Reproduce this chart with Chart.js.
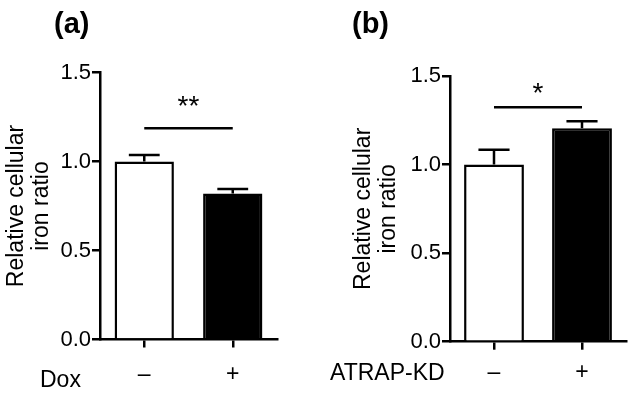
<!DOCTYPE html>
<html>
<head>
<meta charset="utf-8">
<script src="https://cdn.jsdelivr.net/npm/chart.js@4.4.1/dist/chart.umd.min.js"></script>
<style>
body { margin:0; background:#fff; }
#wrap { position:relative; width:629px; height:394px; overflow:hidden; font-family:"Liberation Sans", Arial, sans-serif; }
canvas { position:absolute; top:0; }
.lbl { position:absolute; font-weight:bold; font-size:29px; line-height:29px; color:#000; }
</style>
</head>
<body>
<div id="wrap">
  <canvas id="chartA" width="315" height="394" style="left:0px"></canvas>
  <canvas id="chartB" width="314" height="394" style="left:315px"></canvas>
  <div class="lbl" style="left:54px;top:9px">(a)</div>
  <div class="lbl" style="left:352px;top:9px">(b)</div>
</div>
<script>
var groups = ['\u2013', '+'];        // x categories
var doxMeans = [1.00, 0.82];
var doxErr = [0.037, 0.025];
var atrapMeans = [1.00, 1.205];
var atrapErr = [0.083, 0.04];
var yTicks = [0, 0.5, 1.0, 1.5];
var barColors = ['#ffffff', '#000000'];

// significance line + stars (data units)
var doxSig = 1.187, doxStarAt = 1.262, doxStars = '**';
var atrapSig = 1.324, atrapStarAt = 1.354, atrapStars = '*';

var FONT = '"Liberation Sans", Arial, sans-serif';

// draws the error bars, the significance bar and the row label
var extras = {
  id: 'extras',
  afterDatasetsDraw: function(chart, args, o) {
    var ctx = chart.ctx;
    var xs = chart.scales.x, ys = chart.scales.y;
    var meta = chart.getDatasetMeta(0);
    ctx.save();
    ctx.strokeStyle = '#000';
    ctx.lineWidth = 2.5;
    ctx.lineCap = 'butt';
    for (var i = 0; i < o.means.length; i++) {
      var bar = meta.data[i];
      var cx = bar.x;
      var half = bar.width * 0.26;
      var y0 = ys.getPixelForValue(o.means[i]);
      var y1 = ys.getPixelForValue(o.means[i] + o.err[i]);
      ctx.beginPath();
      ctx.moveTo(cx, y0);
      ctx.lineTo(cx, y1);
      ctx.moveTo(cx - half, y1);
      ctx.lineTo(cx + half, y1);
      ctx.stroke();
    }
    // significance line between the two category centres
    var sy = ys.getPixelForValue(o.sig);
    ctx.beginPath();
    ctx.moveTo(xs.getPixelForValue(0), sy);
    ctx.lineTo(xs.getPixelForValue(1), sy);
    ctx.stroke();
    ctx.fillStyle = '#000';
    ctx.font = '28px ' + FONT;
    ctx.textAlign = 'center';
    ctx.textBaseline = 'alphabetic';
    ctx.fillText(o.stars, (xs.getPixelForValue(0) + xs.getPixelForValue(1)) / 2, ys.getPixelForValue(o.starAt));
    // row label left of the x tick labels
    ctx.font = '23px ' + FONT;
    ctx.textAlign = 'left';
    ctx.fillText(o.rowLabel, o.rowX, chart.chartArea.bottom + o.rowDy);
    ctx.restore();
  }
};

function makePanel(id, means, err, sig, starAt, stars, rowLabel, lay)
{
  var ctx = document.getElementById(id);
  return new Chart(ctx, {
    type: 'bar',
    data: {
      labels: groups,
      datasets: [{
        data: means,
        backgroundColor: barColors,
        borderColor: '#000',
        borderWidth: 2.5,
        borderSkipped: 'start',
        barPercentage: lay.barPct,
        categoryPercentage: 1
      }]
    },
    options: {
      responsive: false,
      animation: false,
      devicePixelRatio: 1,
      layout: { padding: { top: lay.top, right: lay.right, bottom: 0, left: 0 } },
      plugins: {
        legend: { display: false },
        tooltip: { enabled: false },
        extras: { means: means, err: err, sig: sig, starAt: starAt, stars: stars,
                  rowLabel: rowLabel, rowX: lay.rowX, rowDy: lay.rowDy }
      },
      scales: {
        x: {
          offset: true,
          afterFit: function(s) { s.height = lay.xh; },
          grid: { offset: false, drawOnChartArea: false, tickLength: 8, lineWidth: 2.5, color: '#000' },
          border: { color: '#000', width: 2.5 },
          ticks: { color: '#000', padding: lay.xpad, font: { family: FONT, size: 23 } }
        },
        y: {
          min: 0,
          max: 1.5,
          afterFit: function(s) { s.width = lay.yw; },
          afterBuildTicks: function(s) { s.ticks = yTicks.map(function(v) { return { value: v }; }); },
          grid: { drawOnChartArea: false, tickLength: 8, lineWidth: 2.5, color: '#000' },
          border: { color: '#000', width: 2.5 },
          ticks: {
            color: '#000', padding: 1, font: { family: FONT, size: 22 },
            callback: function(v) { return Number(v).toFixed(1); }
          },
          title: {
            display: true,
            text: ['Relative cellular', 'iron ratio'],
            color: '#000',
            font: { family: FONT, size: 23, lineHeight: 1.1 },
            padding: { top: lay.tpad, bottom: 0 }
          }
        }
      }
    },
    plugins: [extras]
  });
}

makePanel('chartA', doxMeans, doxErr, doxSig, doxStarAt, doxStars, 'Dox',
  { top: 72.5, right: 38, xh: 54.5, yw: 100, barPct: 0.67, xpad: 13, tpad: 4, rowX: 40, rowDy: 47 });
makePanel('chartB', atrapMeans, atrapErr, atrapSig, atrapStarAt, atrapStars, 'ATRAP-KD',
  { top: 76, right: 3, xh: 52.3, yw: 135, barPct: 0.68, xpad: 9, tpad: 36, rowX: 15, rowDy: 38 });
</script>
</body>
</html>
